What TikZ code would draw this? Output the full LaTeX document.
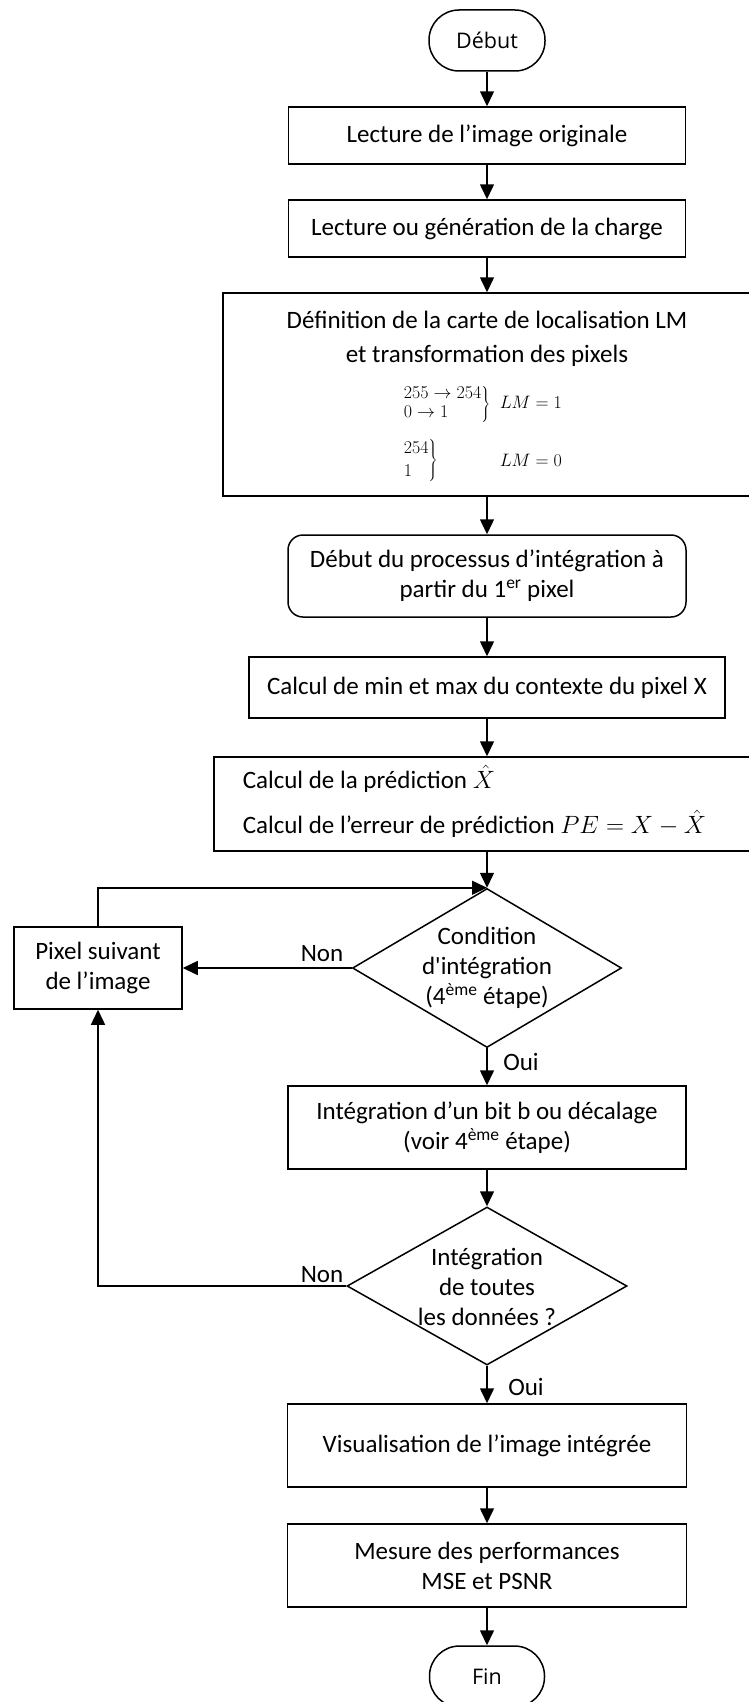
\RequirePackage{fix-cm}
\documentclass[tikz,border=0pt]{standalone}
\usepackage{fontspec}
\setmainfont{Carlito}
\newfontfamily\termfont{Open Sans}
\usetikzlibrary{shapes.geometric,arrows.meta}

\begin{document}
\begin{tikzpicture}[x=1pt,y=-1pt,
  line width=1.5pt,
  font=\fontsize{25}{30}\selectfont,
  every node/.style={inner sep=0pt},
  box/.style={draw, rectangle, align=center},
  term/.style={draw, rectangle, rounded corners=30pt, minimum width=116pt,
    minimum height=61pt, font=\termfont\fontsize{21.5}{26}\selectfont},
  decision/.style={draw, diamond},
  flow/.style={-{Triangle[length=15pt,width=14pt]}},
  mapfont/.style={font=\fontsize{18}{21}\selectfont}
]
\useasboundingbox (0,0) rectangle (749,1702);

% main column
\node[term] (debut) at (487,40.5) {Début};
\node[box, minimum width=397pt, minimum height=57pt] (lecture) at (487,135.5)
  {Lecture de l’image originale};
\node[box, minimum width=397pt, minimum height=57pt] (charge) at (487,228.5)
  {Lecture ou génération de la charge};

% location map box
\node[box, minimum width=528pt, minimum height=203pt] (carte) at (487,394.5) {};
\node (carteA) at (487,320) {Définition de la carte de localisation LM};
\node (carteB) at (487,356) {et transformation des pixels};
\node[mapfont, anchor=west] (mapA) at (402,404)
  {$\def\arraystretch{0.95}\left.\begin{array}{@{}l@{}}255\rightarrow254\\0\rightarrow1\end{array}\right\}$};
\node[mapfont, anchor=west] (lmA) at (499,402) {$LM = 1$};
\node[mapfont, anchor=west] (mapB) at (402,460)
  {$\def\arraystretch{1.1}\left.\begin{array}{@{}l@{}}254\\1\end{array}\right\}$};
\node[mapfont, anchor=west] (lmB) at (499,460) {$LM = 0$};

\node[box, rounded corners=15pt, minimum width=398pt, minimum height=82pt] (debproc) at (487,576)
  {Début du processus d’intégration à\\partir du 1\textsuperscript{er} pixel};
\node[box, minimum width=476pt, minimum height=61pt] (minmax) at (487,687.5)
  {Calcul de min et max du contexte du pixel X};

% prediction box
\node[box, minimum width=546pt, minimum height=94pt] (pred) at (487,804) {};
\node[anchor=west] (predA) at (242,779) {Calcul de la prédiction $\hat{X}$};
\node[anchor=west] (predB) at (242,824) {Calcul de l’erreur de prédiction $PE = X - \hat{X}$};

% first decision and loop box
\node[decision, minimum width=269pt, minimum height=159pt] (cond) at (487,968) {};
\node[align=center] (condtxt) at (487,968)
  {Condition\\d\textquotesingle intégration\\(4\textsuperscript{ème} étape)};
\node[box, minimum width=168pt, minimum height=82pt] (suivant) at (98,968)
  {Pixel suivant\\de l’image};

\node[box, minimum width=398pt, minimum height=83pt] (bit) at (487,1127.5)
  {Intégration d’un bit b ou décalage\\(voir 4\textsuperscript{ème} étape)};

% second decision
\node[decision, minimum width=280pt, minimum height=158pt] (toutes) at (487,1286) {};
\node[align=center] (toutestxt) at (487,1287) {Intégration\\de toutes\\les données ?};

\node[box, minimum width=399pt, minimum height=83pt] (visu) at (487,1445.5)
  {Visualisation de l’image intégrée};
\node[box, minimum width=399pt, minimum height=83pt] (mesure) at (487,1565.5)
  {Mesure des performances\\MSE et PSNR};
\node[term, minimum width=115pt] (fin) at (487,1676.5) {Fin};

% branch labels
\node (non1) at (322,954) {Non};
\node (oui1) at (521,1062) {Oui};
\node (non2) at (322,1275) {Non};
\node (oui2) at (526,1387) {Oui};

% connectors
\draw[flow] (debut.south) -- (lecture.north);
\draw[flow] (lecture.south) -- (charge.north);
\draw[flow] (charge.south) -- (carte.north);
\draw[flow] (carte.south) -- (debproc.north);
\draw[flow] (debproc.south) -- (minmax.north);
\draw[flow] (minmax.south) -- (pred.north);
\draw[flow] (pred.south) -- (cond.north);
\draw[flow] (cond.west) -- (suivant.east);
\draw[flow] (suivant.north) |- (cond.north);
\draw[flow] (cond.south) -- (bit.north);
\draw[flow] (bit.south) -- (toutes.north);
\draw[flow] (toutes.west) -| (suivant.south);
\draw[flow] (toutes.south) -- (visu.north);
\draw[flow] (visu.south) -- (mesure.north);
\draw[flow] (mesure.south) -- (fin.north);
\end{tikzpicture}
\end{document}
